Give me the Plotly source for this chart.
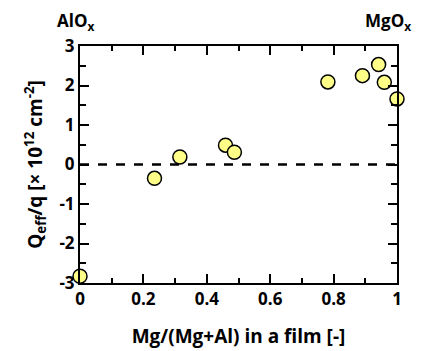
import plotly.graph_objects as go

mg_fraction = [0.0, 0.235, 0.315, 0.459, 0.487, 0.782, 0.891, 0.942, 0.960, 1.0]
q_eff = [-2.83, -0.35, 0.19, 0.49, 0.31, 2.09, 2.25, 2.53, 2.08, 1.66]
x_ticks = [0, 0.2, 0.4, 0.6, 0.8, 1]
x_tick_labels = ["0", "0.2", "0.4", "0.6", "0.8", "1"]
y_ticks = [-3, -2, -1, 0, 1, 2, 3]
y_tick_labels = ["-3", "-2", "-1", "0", "1", "2", "3"]

FONT = "'Open Sans', Lato, sans-serif"

fig = go.Figure()
fig.add_trace(go.Scatter(
    x=[0, 1], y=[0, 0], mode="lines",
    line=dict(color="black", width=2.5, dash="dash"),
    showlegend=False, hoverinfo="skip",
))
fig.add_trace(go.Scatter(
    x=mg_fraction, y=q_eff, mode="markers",
    marker=dict(size=14, color="#FFFF88", line=dict(color="black", width=1.5)),
    cliponaxis=False, showlegend=False,
))

axis_common = dict(
    showline=True, linecolor="black", linewidth=2, mirror="ticks",
    ticks="inside", ticklen=9, tickwidth=2, tickcolor="black",
    showgrid=False, zeroline=False, automargin=False,
    tickfont=dict(family=FONT, size=17, color="black", weight="bold"),
)

fig.update_xaxes(
    range=[0, 1], tickvals=x_ticks, ticktext=x_tick_labels,
    minor=dict(dtick=0.1, ticks="inside", ticklen=5, tickwidth=2, tickcolor="black", showgrid=False),
    title=dict(text="Mg/(Mg+Al) in a film [-]", font=dict(family=FONT, size=19, color="black", weight="bold"), standoff=20),
    ticklabelstandoff=0,
    **axis_common,
)
fig.update_yaxes(
    range=[-3, 3], tickvals=y_ticks, ticktext=y_tick_labels,
    minor=dict(dtick=0.5, ticks="inside", ticklen=6, tickwidth=2, tickcolor="black", showgrid=False),
    title=dict(text="Q<sub>eff</sub>/q [× 10<sup>12</sup> cm<sup>-2</sup>]", font=dict(family=FONT, size=19, color="black", weight="bold"), standoff=12),
    **axis_common,
)

fig.add_annotation(x=0, y=1, xref="paper", yref="paper", text="AlO<sub>x</sub>",
                   showarrow=False, xanchor="center", yanchor="middle", yshift=25, xshift=-5,
                   font=dict(family=FONT, size=17, color="black", weight="bold"))
fig.add_annotation(x=1, y=1, xref="paper", yref="paper", text="MgO<sub>x</sub>",
                   showarrow=False, xanchor="center", yanchor="middle", yshift=25, xshift=-9,
                   font=dict(family=FONT, size=17, color="black", weight="bold"))

fig.update_layout(
    width=424, height=351,
    margin=dict(l=72, r=35, t=38, b=76),
    paper_bgcolor="white", plot_bgcolor="white",
)

fig.write_html("out.html")
